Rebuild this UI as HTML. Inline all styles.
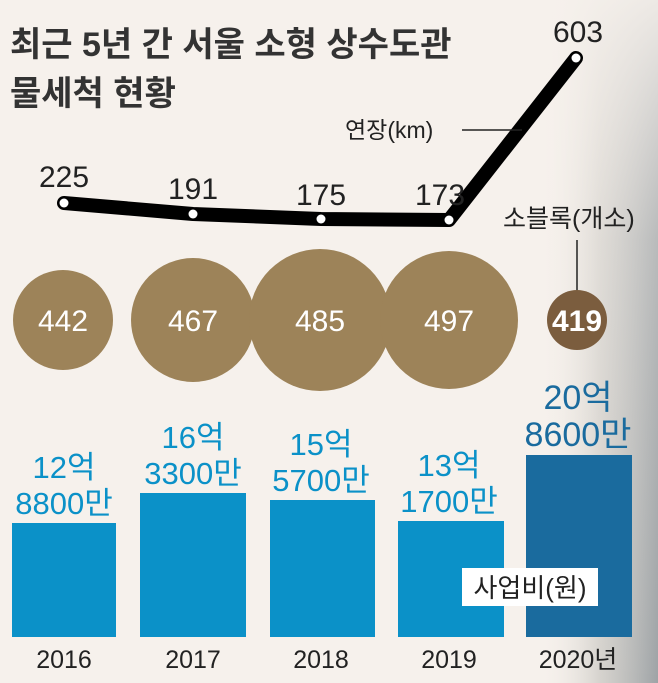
<!DOCTYPE html>
<html><head><meta charset="utf-8"><style>
body{margin:0;width:658px;height:683px;overflow:hidden;background:#f6f1ec;font-family:"Liberation Sans","Noto Sans CJK KR",sans-serif}
</style></head><body>
<svg width="658" height="683" xmlns="http://www.w3.org/2000/svg" style="position:absolute;left:0;top:0">
<defs>
<linearGradient id="ph" x1="0" y1="0" x2="1" y2="0">
<stop offset="0" stop-color="#f6f1ec" stop-opacity="0"/>
<stop offset="0.5" stop-color="#c9c7c2" stop-opacity="0.7"/>
<stop offset="1" stop-color="#9ea3a6"/>
</linearGradient>
<linearGradient id="pv" x1="0" y1="0" x2="0" y2="1">
<stop offset="0" stop-color="#f6f1ec" stop-opacity="0.9"/>
<stop offset="0.35" stop-color="#f6f1ec" stop-opacity="0.3"/>
<stop offset="1" stop-color="#f6f1ec" stop-opacity="0"/>
</linearGradient>
</defs>
<rect x="540" y="0" width="118" height="683" fill="url(#ph)"/>
<rect x="540" y="0" width="118" height="683" fill="url(#pv)"/>
<g font-family="Liberation Sans,Noto Sans CJK KR,sans-serif">
<text x="10" y="56" font-size="34" font-weight="bold" fill="#333">최근 5년 간 서울 소형 상수도관</text>
<text x="10" y="105" font-size="34" font-weight="bold" fill="#333">물세척 현황</text>
<polyline points="64,203 193,214 321,219 449,220 576,58" fill="none" stroke="#000" stroke-width="14" stroke-linejoin="round" stroke-linecap="round"/>
<g fill="#fff"><circle cx="64" cy="203" r="4.5"/><circle cx="193" cy="214" r="4.5"/><circle cx="321" cy="219" r="4.5"/><circle cx="449" cy="220" r="4.5"/><circle cx="576" cy="58" r="4.5"/></g>
<g font-size="30" fill="#222" text-anchor="middle">
<text x="64" y="187">225</text><text x="193" y="199">191</text><text x="321" y="205">175</text><text x="440" y="205">173</text><text x="578" y="42">603</text>
</g>
<text x="345" y="138" font-size="23" fill="#222">연장(km)</text>
<line x1="462" y1="130" x2="522" y2="130" stroke="#222" stroke-width="1.5"/>
<text x="503" y="227" font-size="25" fill="#222">소블록(개소)</text>
<line x1="577" y1="240" x2="577" y2="292" stroke="#222" stroke-width="1.5"/>
<g fill="#9d8359">
<circle cx="63" cy="320" r="50"/><circle cx="193" cy="320" r="62"/><circle cx="320" cy="320" r="71"/><circle cx="449" cy="320" r="69"/>
</g>
<circle cx="577" cy="320" r="30" fill="#7b5d3e"/>
<g font-size="30" fill="#fff" text-anchor="middle">
<text x="63" y="331">442</text><text x="193" y="331">467</text><text x="320" y="331">485</text><text x="449" y="331">497</text>
<text x="577" y="331" font-weight="bold">419</text>
</g>
<g fill="#0b91c8">
<rect x="12" y="523" width="104" height="114"/><rect x="140" y="493" width="106" height="144"/><rect x="270" y="500" width="105" height="137"/><rect x="398" y="521" width="106" height="116"/>
</g>
<rect x="526" y="455" width="106" height="182" fill="#1a6b9e"/>
<rect x="462" y="568" width="136" height="38" fill="#fff"/>
<text x="530" y="597" font-size="26" fill="#222" text-anchor="middle">사업비(원)</text>
<g font-size="31" fill="#0b91c8" text-anchor="middle">
<text x="64" y="478">12억</text><text x="64" y="514">8800만</text>
<text x="193" y="448">16억</text><text x="193" y="484">3300만</text>
<text x="321" y="455">15억</text><text x="321" y="491">5700만</text>
<text x="449" y="476">13억</text><text x="449" y="512">1700만</text>
</g>
<g font-size="34" fill="#1a6b9e" text-anchor="middle">
<text x="578" y="409">20억</text><text x="578" y="446">8600만</text>
</g>
<g font-size="25" fill="#222" text-anchor="middle">
<text x="64" y="668">2016</text><text x="193" y="668">2017</text><text x="321" y="668">2018</text><text x="449" y="668">2019</text><text x="578" y="668">2020년</text>
</g>
</g>
</svg>
</body></html>
